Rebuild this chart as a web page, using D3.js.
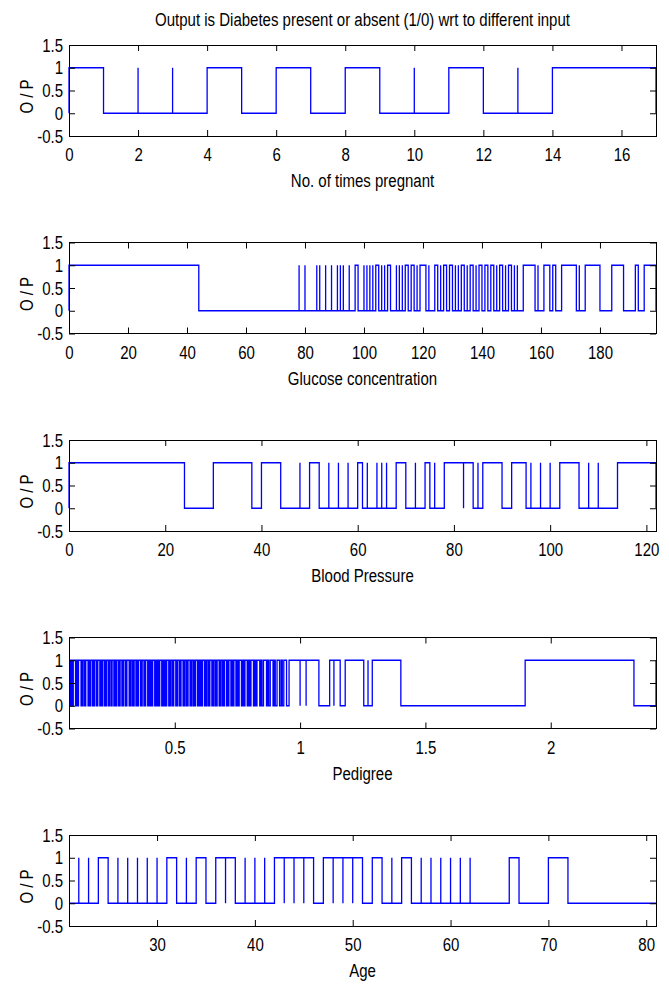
<!DOCTYPE html>
<html>
<head>
<meta charset="utf-8">
<script src="https://cdn.jsdelivr.net/npm/d3@7"></script>
<style>
  body { margin: 0; background: #fff; }
  text { font-family: "Liberation Sans", Arial, sans-serif; }
</style>
</head>
<body>
<svg id="fig" width="669" height="988"></svg>
<script>
// ---- data ----
// each output array lists the x ranges where O/P is 1 (a spike is [x, x])
const titleText = 'Output is Diabetes present or absent (1/0) wrt to different input'
const outputTicks = [-0.5, 0, 0.5, 1, 1.5]

const pregnantDomain = [0, 17]
const pregnantTicks = [0, 2, 4, 6, 8, 10, 12, 14, 16]
const pregnantOnes = [[0,1],[2,2],[3,3],[4,5],[6,7],[8,9],[10,10],[11,12],[13,13],[14,17]]

const glucoseDomain = [0, 199]
const glucoseTicks = [0, 20, 40, 60, 80, 100, 120, 140, 160, 180]
const glucoseOnes = [[0,44],[78,78],[80,80],[84,84],[85,85],[87,87],[89,89],[91,91],[92,92],[93,93],[95,95],[97,98],
  [100,100],[101,101],[102,102],[103,103],[104,105],[106,106],[107,107],[108,109],[111,111],[112,112],[113,113],
  [114,115],[116,117],[118,118],[119,121],[122,122],[124,125],[126,126],[127,128],[129,130],[131,131],[132,132],
  [133,134],[135,135],[136,137],[138,138],[139,140],[141,142],[143,144],[145,145],[146,147],[148,148],[149,150],
  [151,151],[152,152],[154,158],[159,159],[161,163],[164,165],[167,172],[173,173],[175,180],[184,188],[192,193],[195,199]]

const bpDomain = [0, 122]
const bpTicks = [0, 20, 40, 60, 80, 100, 120]
const bpOnes = [[0,24],[30,38],[40,44],[48,48],[50,52],[54,54],[56,56],[58,58],[60,61],[62,62],[64,64],[65,65],
  [66,66],[68,70],[72,72],[74,75],[76,76],[78,82],[82,84],[85,85],[86,90],[92,95],[96,96],[98,98],[100,100],
  [102,106],[108,108],[110,110],[114,122]]

const pedigreeDomain = [0.078, 2.42]
const pedigreeTicks = [0.5, 1, 1.5, 2]
const pedigreeOnes = [[0.084,0.089],[0.091,0.093],[0.095,0.104],[0.106,0.111],[0.113,0.114],[0.116,0.126],
  [0.128,0.131],[0.133,0.139],[0.141,0.143],[0.145,0.154],[0.156,0.16],[0.162,0.163],[0.165,0.172],[0.174,0.178],
  [0.18,0.187],[0.189,0.191],[0.193,0.201],[0.203,0.207],[0.209,0.21],[0.213,0.22],[0.222,0.226],[0.228,0.235],
  [0.237,0.239],[0.241,0.247],[0.25,0.257],[0.259,0.262],[0.264,0.265],[0.267,0.274],[0.276,0.28],[0.282,0.289],
  [0.291,0.293],[0.295,0.302],[0.304,0.307],[0.309,0.318],[0.32,0.322],[0.324,0.33],[0.332,0.336],[0.338,0.345],
  [0.347,0.35],[0.352,0.353],[0.355,0.363],[0.365,0.368],[0.37,0.377],[0.379,0.382],[0.384,0.392],[0.394,0.397],
  [0.399,0.404],[0.406,0.41],[0.412,0.42],[0.422,0.425],[0.427,0.432],[0.434,0.438],[0.44,0.448],[0.45,0.453],
  [0.455,0.46],[0.462,0.466],[0.468,0.476],[0.478,0.481],[0.483,0.489],[0.491,0.494],[0.496,0.504],[0.506,0.509],
  [0.511,0.518],[0.52,0.523],[0.525,0.533],[0.535,0.538],[0.54,0.546],[0.548,0.551],[0.553,0.561],[0.563,0.567],
  [0.569,0.575],[0.577,0.58],[0.582,0.59],[0.592,0.596],[0.598,0.603],[0.605,0.609],[0.611,0.619],[0.621,0.624],
  [0.626,0.632],[0.634,0.638],[0.64,0.648],[0.65,0.653],[0.655,0.661],[0.663,0.667],[0.669,0.677],[0.679,0.682],
  [0.684,0.69],[0.692,0.696],[0.698,0.706],[0.709,0.713],[0.716,0.724],[0.727,0.732],[0.736,0.744],[0.748,0.753],
  [0.757,0.766],[0.77,0.775],[0.78,0.789],[0.794,0.799],[0.804,0.814],[0.819,0.823],[0.828,0.839],[0.844,0.848],
  [0.854,0.866],[0.871,0.875],[0.881,0.892],[0.897,0.901],[0.908,0.918],[0.924,0.929],[0.935,0.946],
  [0.956,1.0],[1.0,1.024],[1.024,1.075],[1.118,1.135],[1.135,1.16],[1.18,1.254],[1.271,1.271],[1.288,1.402],
  [1.898,2.332],[2.42,2.42]]

const ageDomain = [21, 81]
const ageTicks = [30, 40, 50, 60, 70, 80]
const ageOnes = [[22,22],[23,23],[24,25],[26,26],[27,27],[28,28],[29,29],[30,30],[31,32],[33,33],[34,35],[36,37],
  [37,38],[39,39],[40,40],[41,41],[42,43],[43,44],[44,45],[45,46],[47,48],[48,49],[49,50],[50,51],[52,53],[54,54],
  [55,56],[57,57],[58,58],[59,59],[60,60],[61,61],[62,62],[66,67],[70,72]]

const panels = [
  { label: 'No. of times pregnant', domain: pregnantDomain, ticks: pregnantTicks, ones: pregnantOnes },
  { label: 'Glucose concentration', domain: glucoseDomain, ticks: glucoseTicks, ones: glucoseOnes },
  { label: 'Blood Pressure', domain: bpDomain, ticks: bpTicks, ones: bpOnes },
  { label: 'Pedigree', domain: pedigreeDomain, ticks: pedigreeTicks, ones: pedigreeOnes },
  { label: 'Age', domain: ageDomain, ticks: ageTicks, ones: ageOnes }
]

// ---- layout ----
const left = 69, right = 656
const firstTop = 45, step = 197.5, boxH = 91
const fontSize = 19, squeeze = 0.79, tickLen = 6

const svg = d3.select('#fig')

// turn the "ones" ranges into the vertices of the 0/1 line
function stepPoints(domain, ones) {
  const pts = [[domain[0], 0]]
  ones.forEach(([a, b]) => { pts.push([a, 0], [a, 1], [b, 1], [b, 0]) })
  pts.push([domain[1], 0])
  return pts
}

function labelStyle(sel) {
  sel.selectAll('text')
    .style('font-size', fontSize + 'px')
    .attr('fill', '#000')
}

svg.append('text')
  .attr('transform', `translate(${(left + right) / 2},26) scale(${squeeze},1)`)
  .attr('text-anchor', 'middle')
  .style('font-size', fontSize + 'px')
  .text(titleText)

panels.forEach((p, i) => {
  const top = firstTop + i * step
  const bottom = top + boxH
  const x = d3.scaleLinear().domain(p.domain).range([left, right])
  const y = d3.scaleLinear().domain([-0.5, 1.5]).range([bottom, top])

  const g = svg.append('g')

  g.append('rect')
    .attr('x', left).attr('y', top)
    .attr('width', right - left).attr('height', boxH)
    .attr('fill', '#fff')

  const line = d3.line().x(d => x(d[0])).y(d => y(d[1]))
  g.append('path')
    .datum(stepPoints(p.domain, p.ones))
    .attr('d', line)
    .attr('fill', 'none')
    .attr('stroke', '#0000ff')
    .attr('stroke-width', 1.3)

  // axes: ticks point inward on all four sides
  const fmt = d => String(d)
  const xb = g.append('g').attr('transform', `translate(0,${bottom})`)
    .call(d3.axisBottom(x).tickValues(p.ticks).tickFormat(fmt).tickSizeInner(-tickLen).tickSizeOuter(0).tickPadding(12))
  xb.selectAll('text').attr('transform', `scale(${squeeze},1)`)
  labelStyle(xb)

  g.append('g').attr('transform', `translate(0,${top})`)
    .call(d3.axisTop(x).tickValues(p.ticks).tickFormat('').tickSizeInner(-tickLen).tickSizeOuter(0))

  const yl = g.append('g').attr('transform', `translate(${left},0)`)
    .call(d3.axisLeft(y).tickValues(outputTicks).tickFormat(fmt).tickSizeInner(-tickLen).tickSizeOuter(0))
  yl.selectAll('text')
    .attr('x', -6 / squeeze)
    .attr('transform', `scale(${squeeze},1)`)
  labelStyle(yl)

  g.append('g').attr('transform', `translate(${right},0)`)
    .call(d3.axisRight(y).tickValues(outputTicks).tickFormat('').tickSizeInner(-tickLen).tickSizeOuter(0))

  g.selectAll('.domain').remove()
  g.selectAll('.tick line').attr('stroke', '#000')

  g.append('rect')
    .attr('x', left).attr('y', top)
    .attr('width', right - left).attr('height', boxH)
    .attr('fill', 'none')
    .attr('stroke', '#000')
    .attr('stroke-width', 1)
    .attr('shape-rendering', 'crispEdges')

  g.append('text')
    .attr('transform', `translate(${(left + right) / 2},${bottom + 51}) scale(${squeeze},1)`)
    .attr('text-anchor', 'middle')
    .style('font-size', fontSize + 'px')
    .text(p.label)

  g.append('text')
    .attr('transform', `translate(33,${(top + bottom) / 2 + 6}) rotate(-90) scale(${squeeze},1)`)
    .attr('text-anchor', 'middle')
    .style('font-size', fontSize + 'px')
    .text('O / P')
})
</script>
</body>
</html>
